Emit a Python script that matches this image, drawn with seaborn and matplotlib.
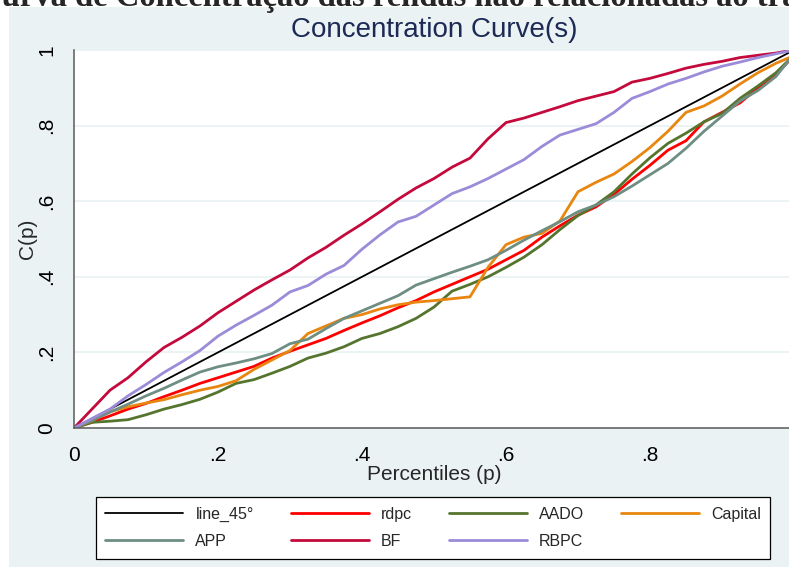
import matplotlib
matplotlib.use("Agg")
import matplotlib.pyplot as plt
from matplotlib.lines import Line2D
from matplotlib.patches import Rectangle
import pandas as pd
import seaborn as sns

pctl = [0, .025, .05, .075, .1, .125, .15, .175, .2, .225, .25, .275, .3, .325,
        .35, .375, .4, .425, .45, .475, .5, .525, .55, .575, .6, .625, .65, .675,
        .7, .725, .75, .775, .8, .825, .85, .875, .9, .925, .95, .975, 1]

diag_p = [0, 1]
diag_c = [0, 1]

rdpc = [0, .015, .032, .05, .065, .083, .1, .118, .133, .148, .163, .185, .203, .22,
        .237, .258, .278, .297, .318, .337, .36, .38, .4, .42, .445, .47, .505, .535,
        .563, .585, .618, .658, .695, .735, .76, .81, .835, .86, .9, .935, .985]

aado = [0, .015, .018, .022, .035, .05, .062, .076, .095, .118, .128, .145, .163, .185,
        .198, .215, .237, .25, .268, .29, .32, .362, .38, .4, .425, .452, .485, .525,
        .562, .59, .625, .672, .715, .753, .78, .81, .832, .872, .905, .94, .987]

capital = [0, .02, .043, .056, .066, .075, .088, .1, .11, .125, .155, .18, .205, .25,
           .27, .29, .3, .315, .326, .333, .337, .342, .347, .425, .485, .505, .515, .548,
           .625, .65, .672, .705, .742, .785, .835, .852, .878, .91, .94, .965, .985]

app = [0, .02, .042, .063, .085, .105, .127, .148, .162, .172, .183, .197, .223, .235,
       .263, .29, .31, .33, .35, .378, .395, .412, .428, .445, .47, .497, .522, .546,
       .572, .59, .612, .64, .67, .7, .74, .785, .825, .865, .893, .93, .99]

bf = [0, .05, .10, .133, .175, .213, .24, .27, .305, .335, .365, .392, .418, .45,
      .478, .51, .54, .572, .605, .635, .66, .69, .714, .765, .808, .82, .835, .85,
      .866, .878, .89, .915, .925, .938, .952, .962, .97, .98, .986, .992, 1]

rbpc = [0, .025, .05, .085, .115, .147, .175, .205, .243, .272, .298, .325, .36, .377,
        .407, .43, .473, .511, .545, .56, .59, .62, .638, .66, .685, .71, .745, .775,
        .79, .805, .835, .872, .89, .91, .925, .942, .957, .968, .98, .99, 1]

series_names = ["line_45°", "rdpc", "AADO", "Capital", "APP", "BF", "RBPC"]
palette = {
    "line_45°": "#000000",
    "rdpc": "#FF0000",
    "AADO": "#55752F",
    "Capital": "#E8860F",
    "APP": "#6E8E84",
    "BF": "#C40A3C",
    "RBPC": "#9B8BD8",
}

BG = "#EAF2F3"

frames = [pd.DataFrame({"p": diag_p, "C": diag_c, "series": "line_45°"})]
for name, vals in [("rdpc", rdpc), ("AADO", aado), ("Capital", capital),
                   ("APP", app), ("BF", bf), ("RBPC", rbpc)]:
    frames.append(pd.DataFrame({"p": pctl, "C": vals, "series": name}))
df = pd.concat(frames, ignore_index=True)

sns.set_theme(style="white")
plt.rcParams["font.family"] = ["Liberation Sans", "DejaVu Sans"]

fig = plt.figure(figsize=(7.89, 5.67), dpi=100, facecolor=BG)
# white margin at the very top and left (cropped screenshot)
fig.patches.append(Rectangle((0, 1 - 7 / 567), 1, 7 / 567, transform=fig.transFigure,
                             facecolor="white", edgecolor="none", zorder=0))
fig.patches.append(Rectangle((0, 0), 9 / 789, 1, transform=fig.transFigure,
                             facecolor="white", edgecolor="none", zorder=0))

ax = fig.add_axes([74 / 789, 139 / 567, 720 / 789, 378 / 567])
ax.set_facecolor("white")
ax.set_axisbelow(True)

sns.lineplot(data=df, x="p", y="C", hue="series", hue_order=series_names,
             palette=palette, estimator=None, sort=False, legend=False, ax=ax)
for ln in ax.lines:
    ln.set_linewidth(2.0)
ax.lines[0].set_linewidth(1.3)

ax.set_xlim(0, 1)
ax.set_ylim(0, 1)
ticks = [0, .2, .4, .6, .8, 1]
tick_labels = ["0", ".2", ".4", ".6", ".8", "1"]
ax.set_xticks(ticks)
ax.set_xticklabels(tick_labels)
ax.set_yticks(ticks)
ax.set_yticklabels(tick_labels, rotation=90, va="center")
ax.tick_params(axis="both", direction="out", length=6, width=1.1, color="#5a5a5a",
               labelsize=15, pad=7, labelcolor="black")
ax.grid(axis="y", color=BG, linewidth=1.3)
ax.grid(axis="x", visible=False)
for side in ["top", "right"]:
    ax.spines[side].set_visible(False)
for side in ["left", "bottom"]:
    ax.spines[side].set_color("#5a5a5a")
    ax.spines[side].set_linewidth(1.1)

ax.set_xlabel("Percentiles (p)", fontsize=15, labelpad=0)
ax.set_ylabel("C(p)", fontsize=15, labelpad=0)

fig.text(434 / 789, 1 - 30 / 567, "Concentration Curve(s)", ha="center", va="center",
         fontsize=20, color="#1C2A55")
fig.text(-22 / 789, 1 - 6 / 567,
         "Curva de Concentração das rendas não relacionadas ao trabalho",
         ha="left", va="baseline", fontsize=23.5, fontweight="bold",
         family=["Liberation Serif", "DejaVu Serif"])

order = ["line_45°", "APP", "rdpc", "BF", "AADO", "RBPC", "Capital"]
handles = [Line2D([], [], color=palette[n], lw=1.3 if n == "line_45°" else 2.0) for n in order]
leg = fig.legend(handles, order, loc="center", bbox_to_anchor=(433 / 789, 1 - 528 / 567),
                 ncol=4, frameon=True, fancybox=False, edgecolor="black", facecolor="white",
                 framealpha=1, fontsize=11.5, handlelength=4.9, handletextpad=0.75,
                 columnspacing=2.3, labelspacing=0.75, borderpad=0.6)
leg.get_frame().set_linewidth(0.9)

fig.savefig("out.png", dpi=100, facecolor=fig.get_facecolor())
